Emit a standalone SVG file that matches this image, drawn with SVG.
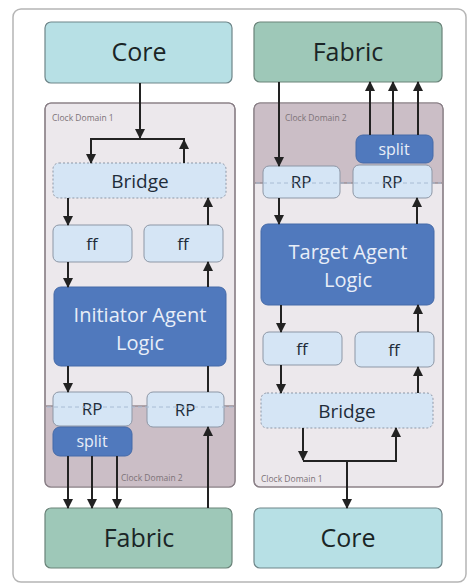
<svg xmlns="http://www.w3.org/2000/svg" width="473" height="587" viewBox="0 0 473 587">
<defs>
<marker id="ah" viewBox="0 0 10 10" refX="9" refY="5" markerWidth="10" markerHeight="10" markerUnits="userSpaceOnUse" orient="auto">
<path d="M0,0 L10,5 L0,10 z" fill="#222"/>
</marker>
<style>
text{font-family:"Open Sans","Noto Sans","DejaVu Sans",sans-serif;text-anchor:middle}
.core{fill:#b7e0e5;stroke:#6e8589;stroke-width:1.2}
.fab{fill:#9ec8b8;stroke:#6a8379;stroke-width:1.2}
.big{font-size:25px;fill:#1a2526}
.dlight{fill:#ece8ec;stroke:#8b8188;stroke-width:1.2}
.ddark{fill:#cbbec6}
.sm{fill:#d5e5f5;stroke:#8d97a6;stroke-width:1}
.dash{fill:#d5e5f5;stroke:#8d97a6;stroke-width:1;stroke-dasharray:2 2}
.agent{fill:#5079bd;stroke:#456aa8;stroke-width:1}
.atx{font-size:20px;fill:#e8eef8}
.mtx{font-size:17px;fill:#1e2c3a}
.stx{font-size:16px;fill:#e8eef8}
.lbl{font-size:8.5px;fill:#7d7378;text-anchor:start}
.bnd{stroke:#9a8e95;stroke-width:1.5}
.bdash{stroke:#a8bcd4;stroke-width:1;stroke-dasharray:4 3}
.c{stroke:#222;stroke-width:2;fill:none}
.ca{stroke:#222;stroke-width:2;fill:none;marker-end:url(#ah)}
</style>
</defs>
<rect x="13" y="9" width="453" height="573" rx="8" fill="#fff" stroke="#b5b5b5" stroke-width="1.5"/>

<g id="domain-left">
<rect class="dlight" x="45" y="103" width="190" height="384" rx="6"/>
<path class="ddark" d="M45.6,406 H234.4 V481 a5.4,5.4 0 0 1 -5.4,5.4 H51 a5.4,5.4 0 0 1 -5.4,-5.4 z"/>
<rect x="45" y="103" width="190" height="384" rx="6" fill="none" stroke="#8b8188" stroke-width="1.2"/>
<line class="bnd" x1="46" y1="406" x2="234" y2="406"/>
<text class="lbl" x="52" y="121">Clock Domain 1</text>
<text class="lbl" x="121" y="481">Clock Domain 2</text>
</g>
<g id="domain-right">
<rect class="dlight" x="254" y="103" width="189" height="384" rx="6"/>
<path class="ddark" d="M254.6,183 H442.4 V109 a5.4,5.4 0 0 0 -5.4,-5.4 H260 a5.4,5.4 0 0 0 -5.4,5.4 z"/>
<rect x="254" y="103" width="189" height="384" rx="6" fill="none" stroke="#8b8188" stroke-width="1.2"/>
<line class="bnd" x1="255" y1="183" x2="442" y2="183"/>
<text class="lbl" x="285" y="121">Clock Domain 2</text>
<text class="lbl" x="261" y="482">Clock Domain 1</text>
</g>

<g id="core-left"><rect class="core" x="45" y="22" width="187" height="61" rx="6"/><text class="big" x="139" y="61">Core</text></g>
<g id="fabric-left"><rect class="fab" x="45" y="508" width="187" height="60" rx="6"/><text class="big" x="139" y="547">Fabric</text></g>
<g id="fabric-right"><rect class="fab" x="254" y="22" width="188" height="60" rx="6"/><text class="big" x="348" y="61">Fabric</text></g>
<g id="core-right"><rect class="core" x="254" y="508" width="188" height="60" rx="6"/><text class="big" x="348" y="547">Core</text></g>

<g id="bridge-left"><rect class="dash" x="53" y="163" width="173" height="35" rx="6"/><text class="mtx" x="140" y="188" style="font-size:19px">Bridge</text></g>
<g id="ff-l1"><rect class="sm" x="53" y="225" width="79" height="37" rx="6"/><text class="mtx" x="92" y="250">ff</text></g>
<g id="ff-l2"><rect class="sm" x="144" y="225" width="79" height="37" rx="6"/><text class="mtx" x="183" y="250">ff</text></g>
<g id="initiator"><rect class="agent" x="54" y="287" width="172" height="79" rx="7"/><text class="atx" x="140" y="322">Initiator Agent</text><text class="atx" x="140" y="350">Logic</text></g>
<g id="rp-l1"><rect class="sm" x="53" y="392" width="79" height="34" rx="6"/><text class="mtx" x="92" y="415">RP</text></g>
<g id="rp-l2"><rect class="sm" x="147" y="392" width="77" height="35" rx="6"/><text class="mtx" x="185" y="416">RP</text></g>
<g id="split-l"><rect class="agent" x="53" y="427" width="79" height="29" rx="7"/><text class="stx" x="92" y="447">split</text></g>

<g id="split-r"><rect class="agent" x="356" y="135" width="77" height="28" rx="7"/><text class="stx" x="394" y="155">split</text></g>
<g id="rp-r1"><rect class="sm" x="263" y="166" width="77" height="32" rx="6"/><text class="mtx" x="301" y="188">RP</text></g>
<g id="rp-r2"><rect class="sm" x="353" y="165" width="79" height="33" rx="6"/><text class="mtx" x="392" y="188">RP</text></g>
<g id="target"><rect class="agent" x="261" y="224" width="173" height="81" rx="7"/><text class="atx" x="348" y="259">Target Agent</text><text class="atx" x="348" y="287">Logic</text></g>
<g id="ff-r1"><rect class="sm" x="263" y="332" width="79" height="33" rx="6"/><text class="mtx" x="302" y="355">ff</text></g>
<g id="ff-r2"><rect class="sm" x="355" y="332" width="79" height="35" rx="6"/><text class="mtx" x="394" y="356">ff</text></g>
<g id="bridge-right"><rect class="dash" x="261" y="393" width="172" height="35" rx="6"/><text class="mtx" x="347" y="418" style="font-size:19px">Bridge</text></g>

<g id="dashes">
<line class="bdash" x1="47" y1="407" x2="233" y2="407"/>
<line class="bdash" x1="256" y1="183" x2="441" y2="183"/>
</g>

<g id="connectors">
<line class="ca" x1="140" y1="83" x2="140" y2="138"/>
<polyline class="c" points="91,155 91,139 184,139 184,163"/>
<line class="ca" x1="91" y1="139" x2="91" y2="163"/>
<line class="ca" x1="184" y1="163" x2="184" y2="140"/>
<line class="ca" x1="68" y1="198" x2="68" y2="225"/>
<line class="ca" x1="208" y1="225" x2="208" y2="198"/>
<line class="ca" x1="68" y1="262" x2="68" y2="287"/>
<line class="ca" x1="208" y1="287" x2="208" y2="262"/>
<line class="ca" x1="68" y1="366" x2="68" y2="392"/>
<line class="c" x1="208" y1="392" x2="208" y2="366"/>
<line class="ca" x1="68" y1="456" x2="68" y2="508"/>
<line class="ca" x1="92" y1="456" x2="92" y2="508"/>
<line class="ca" x1="117" y1="456" x2="117" y2="508"/>
<line class="ca" x1="208" y1="508" x2="208" y2="427"/>

<line class="ca" x1="279" y1="82" x2="279" y2="166"/>
<line class="ca" x1="370" y1="135" x2="370" y2="82"/>
<line class="ca" x1="393" y1="135" x2="393" y2="82"/>
<line class="ca" x1="418" y1="135" x2="418" y2="82"/>
<line class="ca" x1="279" y1="198" x2="279" y2="224"/>
<line class="ca" x1="417" y1="224" x2="417" y2="198"/>
<line class="ca" x1="281" y1="305" x2="281" y2="332"/>
<line class="ca" x1="418" y1="332" x2="418" y2="305"/>
<line class="ca" x1="281" y1="365" x2="281" y2="393"/>
<line class="ca" x1="418" y1="393" x2="418" y2="367"/>
<line class="ca" x1="303" y1="428" x2="303" y2="460"/>
<polyline class="c" points="303,461 396,461 396,440"/>
<line class="ca" x1="396" y1="461" x2="396" y2="428"/>
<line class="ca" x1="347" y1="461" x2="347" y2="508"/>
</g>
</svg>
